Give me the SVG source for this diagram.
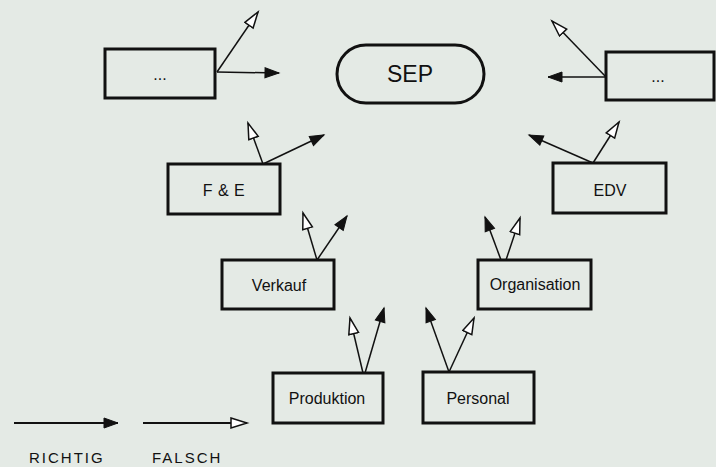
<svg xmlns="http://www.w3.org/2000/svg" width="716" height="467" viewBox="0 0 716 467">
<defs>
<marker id="solid" markerUnits="userSpaceOnUse" markerWidth="18" markerHeight="14" refX="15" refY="6" orient="auto">
<path d="M1,1 L15,6 L1,11 z" fill="#111" stroke="#111" stroke-width="1"/>
</marker>
<marker id="open" markerUnits="userSpaceOnUse" markerWidth="20" markerHeight="14" refX="17" refY="6" orient="auto">
<path d="M1,1 L17,6 L1,11 z" fill="#fff" stroke="#111" stroke-width="1.5" stroke-linejoin="miter"/>
</marker>
</defs>
<style>
.box{fill:none;stroke:#111;stroke-width:3}
.lbl{font-family:"Liberation Sans",Arial,sans-serif;font-size:16px;fill:#111;text-anchor:middle}
.c{stroke:#111;stroke-width:1.5;fill:none}
.r{marker-end:url(#solid)}
.f{marker-end:url(#open)}
.leg{font-family:"Liberation Sans",Arial,sans-serif;font-size:15px;fill:#111;letter-spacing:2px}
</style>
<rect width="716" height="467" fill="#e4eae5"/>
<g id="connectors">
<path class="c r" d="M217,72 L279,73"/>
<path class="c f" d="M217,72 L258,12"/>
<path class="c r" d="M606,77 L548,77"/>
<path class="c f" d="M606,77 L552,21"/>
<path class="c f" d="M263,164 L248,123"/>
<path class="c r" d="M263,164 L324,135"/>
<path class="c r" d="M593,163 L529,135"/>
<path class="c f" d="M593,163 L619,122"/>
<path class="c f" d="M317,260 L303,213"/>
<path class="c r" d="M317,260 L347,216"/>
<path class="c r" d="M501,260 L485,217"/>
<path class="c f" d="M506,260 L520,218"/>
<path class="c f" d="M363,373 L350,318"/>
<path class="c r" d="M365,373 L384,308"/>
<path class="c r" d="M449,372 L426,308"/>
<path class="c f" d="M449,372 L474,318"/>
<path class="c r" d="M14,423 L118,423" style="stroke-width:2"/>
<path class="c f" d="M143,423 L247,423" style="stroke-width:2"/>
</g>
<g id="sep">
<rect class="box" x="337" y="45" width="147" height="58" rx="29" ry="29"/>
<text class="lbl" x="410" y="82" style="font-size:23px">SEP</text>
</g>
<g id="dots-left">
<rect class="box" x="105" y="49" width="110" height="49"/>
<text class="lbl" x="160" y="80">...</text>
</g>
<g id="dots-right">
<rect class="box" x="606" y="52" width="108" height="48"/>
<text class="lbl" x="658" y="82">...</text>
</g>
<g id="fe">
<rect class="box" x="168" y="164" width="112" height="50"/>
<text class="lbl" x="224" y="196" style="letter-spacing:0.5px">F &amp; E</text>
</g>
<g id="edv">
<rect class="box" x="553" y="163" width="113" height="50"/>
<text class="lbl" x="610" y="196">EDV</text>
</g>
<g id="verkauf">
<rect class="box" x="222" y="260" width="112" height="49"/>
<text class="lbl" x="279" y="291">Verkauf</text>
</g>
<g id="organisation">
<rect class="box" x="478" y="260" width="113" height="49"/>
<text class="lbl" x="535" y="290">Organisation</text>
</g>
<g id="produktion">
<rect class="box" x="273" y="373" width="110" height="50"/>
<text class="lbl" x="327" y="404">Produktion</text>
</g>
<g id="personal">
<rect class="box" x="423" y="372" width="111" height="51"/>
<text class="lbl" x="478" y="404">Personal</text>
</g>
<g id="legend">
<text class="leg" x="29" y="463">RICHTIG</text>
<text class="leg" x="152" y="463">FALSCH</text>
</g>
</svg>
